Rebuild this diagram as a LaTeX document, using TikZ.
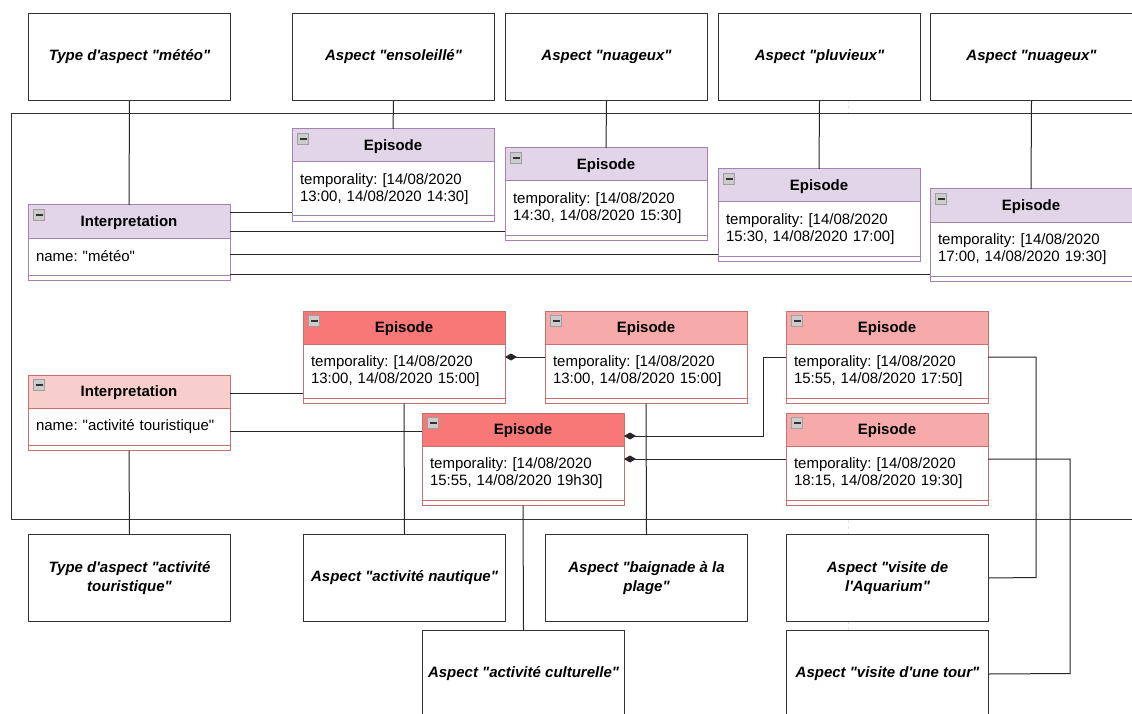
\documentclass[tikz,border=0pt]{standalone}
\usepackage{fontspec}
\setmainfont{Liberation Sans}[Ligatures=TeXOff]
\frenchspacing
\usetikzlibrary{arrows.meta,calc,positioning}

\definecolor{meteoFill}{HTML}{E1D5E7}
\definecolor{meteoLine}{HTML}{A383B3}
\definecolor{tourFill}{HTML}{F8CECC}
\definecolor{tourLine}{HTML}{C8706C}
\definecolor{tourDark}{HTML}{F87878}
\definecolor{tourMid}{HTML}{F7AAAA}

\tikzset{
  aspect/.style={draw=black!80, line width=1pt, minimum width=202pt, minimum height=87pt,
    anchor=north west, align=center, inner sep=2pt,
    font=\fontsize{15}{19}\selectfont\bfseries\itshape},
  classhead/.style={draw, line width=1pt, outer sep=0pt, minimum width=202pt,
    minimum height=33pt, inner sep=0pt, text depth=0pt,
    font=\fontsize{15}{17.5}\selectfont\bfseries},
  classbody/.style={draw, line width=1pt, outer sep=0pt, fill=white, text width=186pt,
    align=left, inner xsep=8pt, inner ysep=0pt, font=\fontsize{15}{17.5}\selectfont},
  classfoot/.style={draw, line width=1pt, outer sep=0pt, fill=white, minimum width=202pt,
    minimum height=5.5pt, inner sep=0pt},
  link/.style={draw=black!85, line width=1pt},
  comp/.style={link, -{Diamond[length=12pt,width=7pt]}},
  guide/.style={draw=gray!20, dashed, line width=1pt}
}

% class box: name, top left, body height, header fill, border, title, attribute
\newcommand{\umlclass}[7]{%
  \node[classhead, fill=#4, draw=#5, anchor=north west] (#1) at (#2) {#6};
  \node[classbody, draw=#5, minimum height=#3, anchor=north] (#1-body) at (#1.south) {#7};
  \node[classfoot, draw=#5, anchor=north] (#1-foot) at (#1-body.south) {};
  \draw[fill=gray!40, draw=gray!75, line width=0.7pt] ($(#1.north west)+(5.5,4.5)$) rectangle +(11,11);
  \draw[line width=1.6pt, black!80] ($(#1.north west)+(7.5,10)$) -- +(7,0);
}

\begin{document}
\begin{tikzpicture}[x=1pt, y=-1pt]
  \clip (0,0) rectangle (1132,714);
  \fill[white] (0,0) rectangle (1132,714);

  % frame around the interpretations
  \draw[black!80, line width=1pt] (11,113.5) rectangle (1140,519.5);
  \draw[guide] (848,100) -- (848,113);
  \draw[guide] (848,520) -- (848,534);
  \draw[guide] (848,621) -- (848,630);

  % aspects, top row
  \foreach \nm/\x/\txt in {asMeteo/28/{Type d'aspect "météo"},
                           asSun/292/{Aspect "ensoleillé"},
                           asCloud/505/{Aspect "nuageux"},
                           asRain/718/{Aspect "pluvieux"},
                           asCloudB/930/{Aspect "nuageux"}}
    \node[aspect] (\nm) at (\x,13) {\txt};

  % aspects, bottom rows
  \node[aspect] (asTour) at (28,534) {Type d'aspect "activité\\touristique"};
  \node[aspect] (asNaut) at (303,534) {Aspect "activité nautique"};
  \node[aspect] (asPlage) at (545,534) {Aspect "baignade à la\\plage"};
  \node[aspect] (asAqua) at (786,534) {Aspect "visite de\\l'Aquarium"};
  \node[aspect] (asCult) at (422,630) {Aspect "activité culturelle"};
  \node[aspect] (asVisit) at (786,630) {Aspect "visite d'une tour"};

  % meteo interpretation
  \umlclass{intM}{28,205}{37pt}{meteoFill}{meteoLine}{Interpretation}{name: "météo"}
  \foreach \nm/\x/\y/\t in {epA/292/129/{13:00, 14/08/2020 14:30]},
                            epB/505/148/{14:30, 14/08/2020 15:30]},
                            epC/718/169/{15:30, 14/08/2020 17:00]},
                            epD/930/189/{17:00, 14/08/2020 19:30]}}
    \umlclass{\nm}{\x,\y}{54pt}{meteoFill}{meteoLine}{Episode}{temporality: [14/08/2020\\\t};

  % touristic interpretation
  \umlclass{intA}{28,375}{37pt}{tourFill}{tourLine}{Interpretation}{name: "activité touristique"}
  \umlclass{epR1}{303,311}{54pt}{tourDark}{tourLine}{Episode}{temporality: [14/08/2020\\13:00, 14/08/2020 15:00]}
  \umlclass{epR2}{545,311}{54pt}{tourMid}{tourLine}{Episode}{temporality: [14/08/2020\\13:00, 14/08/2020 15:00]}
  \umlclass{epR3}{422,413}{54pt}{tourDark}{tourLine}{Episode}{temporality: [14/08/2020\\15:55, 14/08/2020 19h30]}
  \umlclass{epR4}{786,311}{54pt}{tourMid}{tourLine}{Episode}{temporality: [14/08/2020\\15:55, 14/08/2020 17:50]}
  \umlclass{epR5}{786,413}{54pt}{tourMid}{tourLine}{Episode}{temporality: [14/08/2020\\18:15, 14/08/2020 19:30]}

  % bend points
  \coordinate (bendA) at (763,436);
  \coordinate (bendB) at (1036,577.5);
  \coordinate (bendC) at (1070,673.5);

  % meteo links
  \draw[link] (asMeteo.south) -- (intM.north);
  \draw[link] (asSun.south) -- (epA.north);
  \draw[link] (asCloud.south) -- (epB.north);
  \draw[link] (asRain.south) -- (epC.north);
  \draw[link] (asCloudB.south) -- (epD.north);
  \draw[link] (intM.north east |- 0,213) -- (epA.north west |- 0,213);
  \draw[link] (intM.north east |- 0,231) -- (epB.north west |- 0,231);
  \draw[link] (intM.north east |- 0,254) -- (epC.north west |- 0,254);
  \draw[link] (intM.north east |- 0,274) -- (epD.north west |- 0,274);

  % touristic links
  \draw[link] (intA.north east |- 0,393) -- (epR1.north west |- 0,393);
  \draw[link] (intA.north east |- 0,431) -- (epR3.north west |- 0,431);
  \draw[comp] (epR2.north west |- 0,357) -- (epR1.north east |- 0,357);
  \draw[comp] (epR4.north west |- 0,357) -| (bendA) -- (epR3.north east |- bendA);
  \draw[comp] (epR5.north west |- 0,459) -- (epR3.north east |- 0,459);
  \draw[link] (intA-foot.south) -- (asTour.north);
  \draw[link] (epR1-foot.south) -- (asNaut.north);
  \draw[link] (epR2-foot.south) -- (asPlage.north);
  \draw[link] (epR3-foot.south) -- (asCult.north);
  \draw[link] (epR4.north east |- 0,357) -| (bendB) -- (asAqua.east);
  \draw[link] (epR5.north east |- 0,459) -| (bendC) -- (asVisit.east);
\end{tikzpicture}
\end{document}
